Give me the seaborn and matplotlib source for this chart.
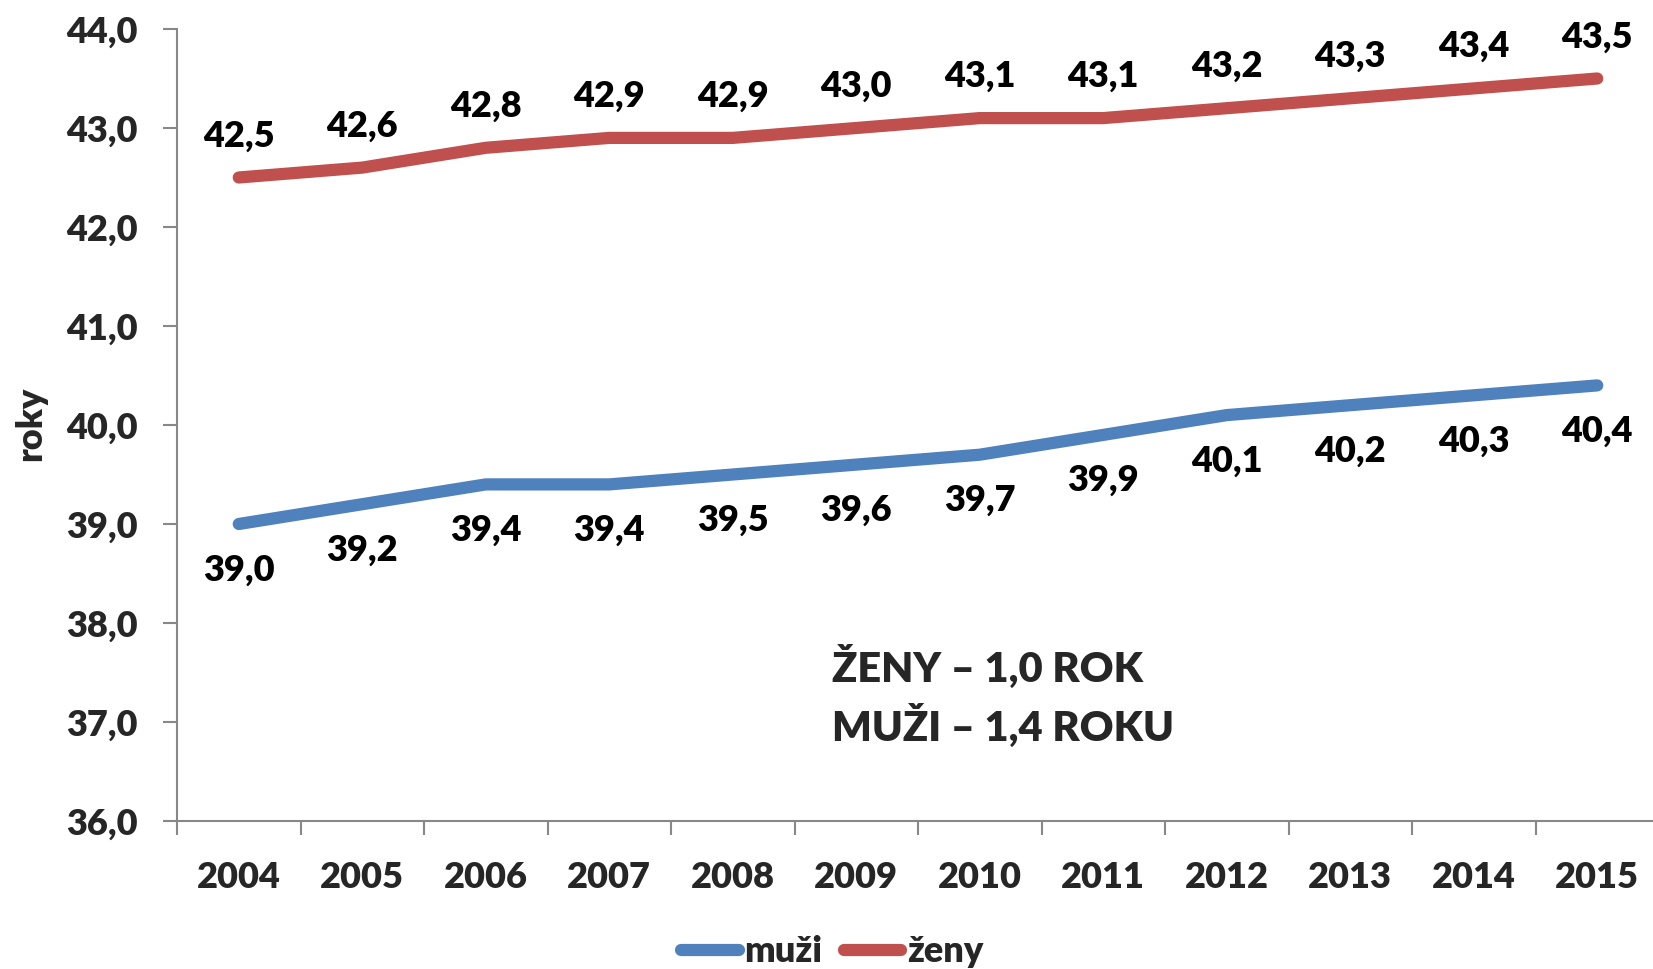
import matplotlib
matplotlib.use("Agg")
import matplotlib.pyplot as plt
import seaborn as sns
import pandas as pd
import numpy as np
from matplotlib.ticker import FixedLocator
from matplotlib.lines import Line2D

years = ["2004", "2005", "2006", "2007", "2008", "2009", "2010", "2011", "2012", "2013", "2014", "2015"]
muzi = [39.0, 39.2, 39.4, 39.4, 39.5, 39.6, 39.7, 39.9, 40.1, 40.2, 40.3, 40.4]
zeny = [42.5, 42.6, 42.8, 42.9, 42.9, 43.0, 43.1, 43.1, 43.2, 43.3, 43.4, 43.5]
series_names = ["muži", "ženy"]
colors = ["#4F81BD", "#C0504D"]
y_ticks = [36.0, 37.0, 38.0, 39.0, 40.0, 41.0, 42.0, 43.0, 44.0]
note_lines = ["ŽENY – 1,0 ROK", "MUŽI – 1,4 ROKU"]

sns.set_theme(style="white")
plt.rcParams['font.family'] = ['Lato', 'DejaVu Sans']
FW = "heavy"
FS = 26

W, H = 1653, 969
fig = plt.figure(figsize=(W / 100, H / 100), dpi=100)
left, right, top, bottom = 177, 1659, 29, 821
ax = fig.add_axes([left / W, 1 - bottom / H, (right - left) / W, (bottom - top) / H])

idx = np.arange(len(years))
df = pd.DataFrame({
    "x": np.concatenate([idx, idx]),
    "value": muzi + zeny,
    "series": [series_names[0]] * len(years) + [series_names[1]] * len(years),
})
sns.lineplot(data=df, x="x", y="value", hue="series", palette=colors, ax=ax,
             linewidth=8.8, solid_capstyle="round", legend=False)

for i, v in enumerate(muzi):
    ax.annotate(f"{v:.1f}".replace(".", ","), (i, v), xytext=(0, -33), textcoords="offset points",
                ha="center", va="center", fontsize=FS, fontweight=FW, color="black")
for i, v in enumerate(zeny):
    ax.annotate(f"{v:.1f}".replace(".", ","), (i, v), xytext=(0, 30), textcoords="offset points",
                ha="center", va="center", fontsize=FS, fontweight=FW, color="black")

ax.set_xlim(-0.5, len(years) - 0.5)
ax.set_ylim(36, 44)
ax.set_yticks(y_ticks)
ax.set_yticklabels([f"{t:.1f}".replace(".", ",") for t in y_ticks], fontsize=FS, fontweight=FW)
ax.xaxis.set_major_locator(FixedLocator(np.arange(-0.5, len(years), 1.0)))
ax.set_xticklabels([])
ax.xaxis.set_minor_locator(FixedLocator(idx))
ax.set_xticklabels(years, minor=True, fontsize=FS, fontweight=FW)
ax.tick_params(axis="x", which="major", direction="out", length=10, width=1.5, color="#888888", bottom=True)
ax.tick_params(axis="x", which="minor", length=0, pad=29, bottom=True)
ax.tick_params(axis="y", which="major", direction="out", length=10, width=1.5, color="#888888", pad=18, left=True)

for s in ["top", "right"]:
    ax.spines[s].set_visible(False)
for s in ["left", "bottom"]:
    ax.spines[s].set_color("#888888")
    ax.spines[s].set_linewidth(1.5)

ax.set_xlabel("")
ax.set_ylabel("")
fig.text(31 / W, 1 - 424 / H, "roky", rotation=90, ha="center", va="center",
         fontsize=FS, fontweight=FW)

fig.text(832 / W, 1 - 645 / H, "\n".join(note_lines), ha="left", va="top",
         fontsize=30, fontweight=FW, linespacing=1.4)

handles = [Line2D([0], [0], color=c, linewidth=8.8, solid_capstyle="round") for c in colors]
fig.legend(handles, series_names, loc="center", bbox_to_anchor=(832 / W, 1 - 952 / H), ncol=2,
           frameon=False, handlelength=1.6, handletextpad=0.15, columnspacing=0.6,
           prop={"weight": FW, "size": FS})

fig.savefig("out.png", dpi=100)
